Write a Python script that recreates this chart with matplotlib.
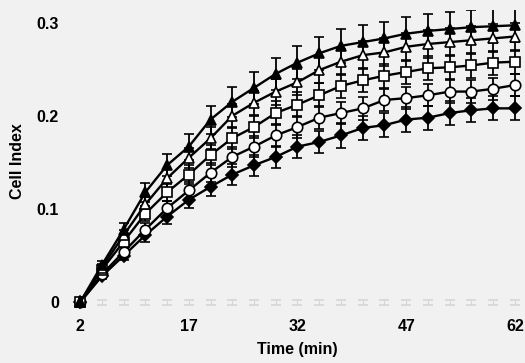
import matplotlib.pyplot as plt
import numpy as np

plt.rcParams["font.family"] = ["Liberation Sans", "DejaVu Sans"]
plt.rcParams["font.weight"] = "bold"

# 采样时间 (min)
time_min = np.arange(2, 63, 3)

# 各组 Cell Index 均值
ci_tri_filled = [0, 0.040, 0.078, 0.118, 0.147, 0.167, 0.196, 0.215, 0.230, 0.245, 0.257,
                 0.267, 0.275, 0.279, 0.283, 0.288, 0.291, 0.293, 0.295, 0.296, 0.297]
ci_tri_open = [0, 0.037, 0.072, 0.105, 0.133, 0.155, 0.176, 0.200, 0.214, 0.226, 0.236,
               0.249, 0.258, 0.265, 0.268, 0.274, 0.277, 0.279, 0.281, 0.283, 0.285]
ci_square = [0, 0.035, 0.065, 0.095, 0.118, 0.137, 0.158, 0.176, 0.188, 0.203, 0.212,
             0.222, 0.232, 0.238, 0.243, 0.247, 0.251, 0.252, 0.254, 0.257, 0.258]
ci_circle = [0, 0.030, 0.054, 0.078, 0.101, 0.120, 0.139, 0.156, 0.167, 0.179, 0.188,
             0.198, 0.203, 0.208, 0.217, 0.219, 0.222, 0.226, 0.226, 0.229, 0.233]
ci_diamond = [0, 0.028, 0.050, 0.072, 0.092, 0.110, 0.124, 0.137, 0.147, 0.156, 0.167,
              0.172, 0.179, 0.187, 0.190, 0.196, 0.198, 0.203, 0.206, 0.208, 0.208]
ci_blank = [0] * 21

# 标准误
err_tri_filled = [0, 0.004, 0.007, 0.010, 0.012, 0.014, 0.015, 0.016, 0.017, 0.017, 0.018,
                  0.018, 0.018, 0.018, 0.018, 0.018, 0.018, 0.018, 0.018, 0.018, 0.018]
err_tri_open = [0, 0.004, 0.006, 0.008, 0.010, 0.011, 0.012, 0.013, 0.013, 0.014, 0.014,
                0.014, 0.014, 0.015, 0.015, 0.015, 0.015, 0.015, 0.015, 0.015, 0.015]
err_square = [0, 0.003, 0.006, 0.008, 0.009, 0.010, 0.011, 0.012, 0.012, 0.013, 0.013,
              0.013, 0.013, 0.013, 0.013, 0.013, 0.013, 0.013, 0.013, 0.013, 0.013]
err_circle = [0, 0.003, 0.005, 0.007, 0.008, 0.009, 0.010, 0.011, 0.011, 0.012, 0.012,
              0.012, 0.012, 0.012, 0.012, 0.012, 0.012, 0.012, 0.012, 0.012, 0.012]
err_diamond = [0, 0.003, 0.005, 0.007, 0.008, 0.009, 0.010, 0.011, 0.011, 0.012, 0.012,
               0.012, 0.013, 0.013, 0.013, 0.013, 0.013, 0.013, 0.013, 0.013, 0.013]
err_blank = [0.003] * 21

series = [
    (ci_blank, err_blank, "none", "none", "#d6d6d6"),
    (ci_diamond, err_diamond, "D", "black", "black"),
    (ci_circle, err_circle, "o", "white", "black"),
    (ci_square, err_square, "s", "white", "black"),
    (ci_tri_open, err_tri_open, "^", "white", "black"),
    (ci_tri_filled, err_tri_filled, "^", "black", "black"),
]

fig = plt.figure(figsize=(5.25, 3.63), dpi=100)
fig.patch.set_facecolor("#f1f1f1")
ax = fig.add_axes([70 / 525, 51 / 363, 455 / 525, 302 / 363])
ax.set_facecolor("#f1f1f1")

for y, e, mk, fc, col in series:
    ms = 6.5 if mk == "D" else 7.5
    ax.errorbar(time_min, y, yerr=e, marker=mk, markersize=ms, markerfacecolor=fc,
                markeredgecolor=col, markeredgewidth=1.2, color=col, linewidth=1.7,
                elinewidth=1.3 if mk != "none" else 0.8, capsize=3.6,
                capthick=1.3 if mk != "none" else 0.8,
                linestyle="none" if mk == "none" else "-")

ax.set_xlim(0.62, 63.38)
ax.set_ylim(-0.0102, 0.3134)
ax.set_xticks([2, 17, 32, 47, 62])
ax.set_yticks([0, 0.1, 0.2, 0.3])
ax.set_yticklabels(["0", "0.1", "0.2", "0.3"])
ax.tick_params(axis="both", length=0, labelsize=11.5)
ax.tick_params(axis="x", pad=5)
ax.tick_params(axis="y", pad=8)
for s in ax.spines.values():
    s.set_visible(False)

ax.set_xlabel("Time (min)", fontsize=11.5, fontweight="bold", labelpad=6)
ax.set_ylabel("Cell Index", fontsize=11.5, fontweight="bold", labelpad=8)

plt.savefig("out.png", dpi=100, facecolor=fig.get_facecolor())
